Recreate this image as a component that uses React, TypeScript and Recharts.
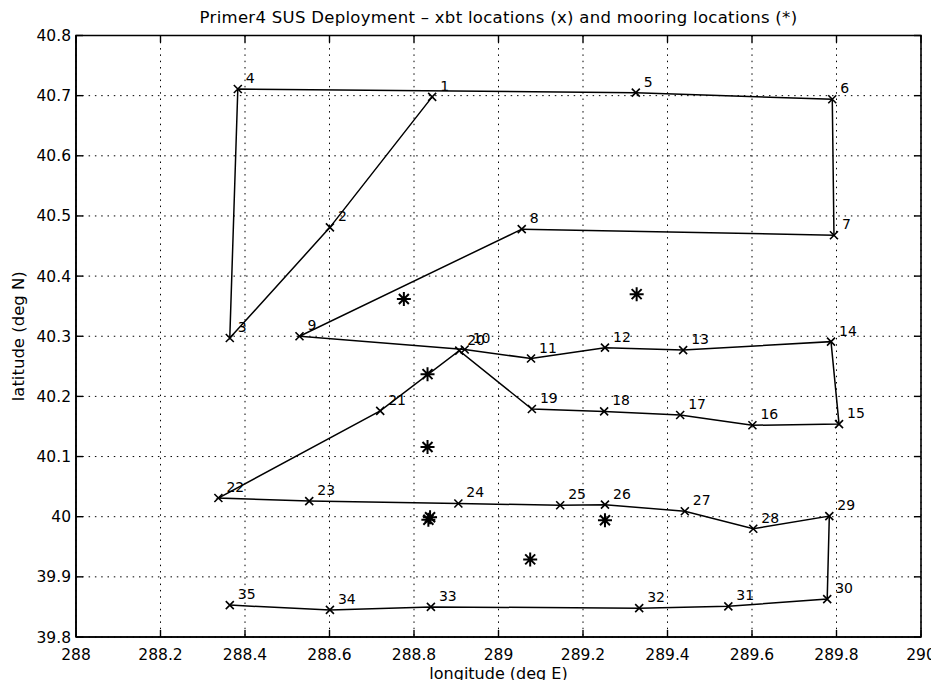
import React from 'react';
import { ScatterChart, Scatter, XAxis, YAxis, CartesianGrid, ReferenceArea } from 'recharts';

// xbt drop numbers, in the order they were made
const xbtIds = [
  1, 2, 3, 4, 5, 6, 7, 8, 9, 10, 11, 12, 13, 14, 15, 16, 17, 18,
  19, 20, 21, 22, 23, 24, 25, 26, 27, 28, 29, 30, 31, 32, 33, 34, 35,
];
const xbtLon = [
  288.843, 288.601, 288.364, 288.383, 289.325, 289.79, 289.794, 289.055, 288.529,
  288.92, 289.077, 289.252, 289.437, 289.787, 289.806, 289.601, 289.43, 289.25,
  289.079, 288.907, 288.72, 288.337, 288.552, 288.905, 289.146, 289.252, 289.441,
  289.603, 289.783, 289.778, 289.544, 289.333, 288.84, 288.601, 288.364,
];
const xbtLat = [
  40.698, 40.481, 40.297, 40.711, 40.705, 40.694, 40.468, 40.478, 40.3,
  40.278, 40.263, 40.281, 40.277, 40.291, 40.154, 40.152, 40.169, 40.175,
  40.179, 40.276, 40.176, 40.031, 40.026, 40.022, 40.019, 40.02, 40.009,
  39.98, 40.001, 39.863, 39.851, 39.848, 39.85, 39.845, 39.853,
];

// mooring positions
const mooringLon = [288.776, 289.327, 288.832, 288.832, 288.834, 288.838, 289.252, 289.075];
const mooringLat = [40.362, 40.37, 40.237, 40.116, 39.995, 39.999, 39.994, 39.929];

const lonTicks = [288, 288.2, 288.4, 288.6, 288.8, 289, 289.2, 289.4, 289.6, 289.8, 290];
const latTicks = [39.8, 39.9, 40, 40.1, 40.2, 40.3, 40.4, 40.5, 40.6, 40.7, 40.8];

const xbtData = xbtIds.map((id, i) => ({ id, lon: xbtLon[i], lat: xbtLat[i] }));
const mooringData = mooringLon.map((lon, i) => ({ lon, lat: mooringLat[i] }));

// the wrapper cancels the body margin so the svg covers the whole window
const W = 939;
const H = 688;
const Y_AXIS_W = 60;
const X_AXIS_H = 40;
const M = { top: 35.5, right: 18, bottom: 688 - 637 - X_AXIS_H, left: 76 - Y_AXIS_W };
const PLOT_W = W - M.left - M.right - Y_AXIS_W;
const PLOT_H = H - M.top - M.bottom - X_AXIS_H;

const FONT = '"DejaVu Sans", Verdana, sans-serif';
const TICK_LEN = 7;

const XTick = (p: any) => {
  const { x, y, payload } = p;
  return (
    <g>
      <line x1={x} y1={y} x2={x} y2={y - TICK_LEN} stroke="#000" strokeWidth={1.4} />
      <line x1={x} y1={y - PLOT_H} x2={x} y2={y - PLOT_H + TICK_LEN} stroke="#000" strokeWidth={1.4} />
      <text x={x} y={y + 22.5} textAnchor="middle" fontSize={15.5} fontFamily={FONT} fill="#000">
        {String(payload.value)}
      </text>
    </g>
  );
};

const YTick = (p: any) => {
  const { x, y, payload } = p;
  return (
    <g>
      <line x1={x} y1={y} x2={x + TICK_LEN} y2={y} stroke="#000" strokeWidth={1.4} />
      <line x1={x + PLOT_W} y1={y} x2={x + PLOT_W - TICK_LEN} y2={y} stroke="#000" strokeWidth={1.4} />
      <text x={x - 5} y={y + 5.5} textAnchor="end" fontSize={15.5} fontFamily={FONT} fill="#000">
        {String(payload.value)}
      </text>
    </g>
  );
};

const XMark = (p: any) => {
  const { cx, cy, payload } = p;
  const s = 4;
  return (
    <g>
      <path
        d={`M${cx - s},${cy - s}L${cx + s},${cy + s}M${cx - s},${cy + s}L${cx + s},${cy - s}`}
        stroke="#000"
        strokeWidth={1.6}
      />
      <text x={cx + 8} y={cy - 6} fontSize={14} fontFamily={FONT} fill="#000">
        {payload.id}
      </text>
    </g>
  );
};

const Star = (p: any) => {
  const { cx, cy } = p;
  const s = 7;
  const d = 5;
  return (
    <path
      d={`M${cx - s},${cy}L${cx + s},${cy}M${cx},${cy - s}L${cx},${cy + s}M${cx - d},${cy - d}L${cx + d},${cy + d}M${cx - d},${cy + d}L${cx + d},${cy - d}`}
      stroke="#000"
      strokeWidth={2}
    />
  );
};

export default function App() {
  const midX = M.left + Y_AXIS_W + PLOT_W / 2;
  const midY = M.top + PLOT_H / 2;
  return (
    <div style={{ position: 'relative', width: W, height: H, margin: -8, overflow: 'hidden' }}>
      <ScatterChart width={W} height={H} margin={M}>
        <CartesianGrid stroke="#000" strokeWidth={1} strokeDasharray="1.5 4.8" />
        <XAxis
          type="number"
          dataKey="lon"
          domain={[288, 290]}
          ticks={lonTicks}
          allowDataOverflow
          height={X_AXIS_H}
          tickSize={0}
          tickMargin={0}
          tickLine={false}
          axisLine={{ stroke: '#000', strokeWidth: 1.6 }}
          tick={XTick}
          interval={0}
        />
        <YAxis
          type="number"
          dataKey="lat"
          domain={[39.8, 40.8]}
          ticks={latTicks}
          allowDataOverflow
          width={Y_AXIS_W}
          tickSize={0}
          tickMargin={0}
          tickLine={false}
          axisLine={{ stroke: '#000', strokeWidth: 1.6 }}
          tick={YTick}
          interval={0}
        />
        <ReferenceArea x1={288} x2={290} y1={39.8} y2={40.8} fill="none" stroke="#000" strokeWidth={1.6} />
        <Scatter
          data={xbtData}
          line={{ stroke: '#000', strokeWidth: 1.5 }}
          lineType="joint"
          shape={XMark}
          isAnimationActive={false}
        />
        <Scatter data={mooringData} shape={Star} isAnimationActive={false} />
      </ScatterChart>
      <svg
        width={W}
        height={H}
        style={{ position: 'absolute', left: 0, top: 0, pointerEvents: 'none' }}
        fontFamily={FONT}
      >
        <text x={midX} y={23} textAnchor="middle" fontSize={16.5} letterSpacing={0.3} fill="#000">
          Primer4 SUS Deployment – xbt locations (x) and mooring locations (*)
        </text>
        <text x={midX} y={679} textAnchor="middle" fontSize={16} fill="#000">
          longitude (deg E)
        </text>
        <text
          x={24}
          y={midY}
          textAnchor="middle"
          fontSize={16.5}
          fill="#000"
          transform={`rotate(-90 24 ${midY})`}
        >
          latitude (deg N)
        </text>
      </svg>
    </div>
  );
}
